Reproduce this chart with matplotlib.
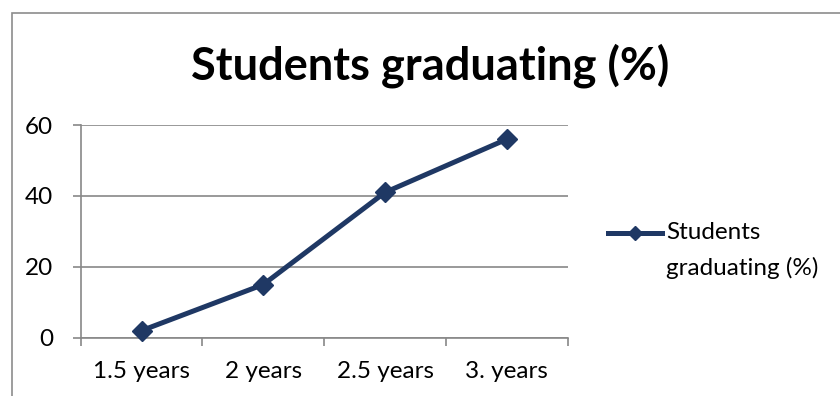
import matplotlib
matplotlib.use("Agg")
import matplotlib.pyplot as plt
import numpy as np
from matplotlib.lines import Line2D
from matplotlib.patches import Rectangle

categories = ["1.5 years", "2 years", "2.5 years", "3. years"]
graduating = [2, 15, 41, 56]
y_ticks = [0, 20, 40, 60]
series_name = "Students graduating (%)"

W, H = 840, 396
DPI = 100
LINE_COLOR = "#1F3864"
AXIS_GRAY = "#888888"
LABEL_SIZE = 17.5

plt.rcParams["font.family"] = ["Lato", "DejaVu Sans"]

fig = plt.figure(figsize=(W / DPI, H / DPI), dpi=DPI)
fig.patch.set_facecolor("white")

# chart frame (runs off the right and bottom edges)
fig.add_artist(Rectangle((12 / W, -0.2), 1.2, (H - 13) / H + 0.2,
                         transform=fig.transFigure, fill=False,
                         edgecolor="#8c8c8c", linewidth=1.2))

# plot area in pixel terms
left, right, top, bottom = 80.7, 567.7, 125.0, 337.7
ax = fig.add_axes([left / W, (H - bottom) / H, (right - left) / W, (bottom - top) / H])

x = np.arange(len(categories)) + 0.5
ax.plot(x, graduating, color=LINE_COLOR, linewidth=3.6, marker="D",
        markersize=10, markerfacecolor=LINE_COLOR, markeredgecolor=LINE_COLOR,
        solid_joinstyle="round", zorder=3, clip_on=False)

ax.set_xlim(0, len(categories))
ax.set_ylim(0, 60)
ax.set_yticks(y_ticks)
ax.set_yticklabels([str(v) for v in y_ticks])
ax.set_xticks(np.arange(len(categories) + 1))
ax.set_xticklabels([""] * (len(categories) + 1))
ax.set_xticks(x, minor=True)
ax.set_xticklabels(categories, minor=True)

ax.grid(axis="y", color=AXIS_GRAY, linewidth=1.2, zorder=0)
ax.set_axisbelow(True)
for side in ("top", "right"):
    ax.spines[side].set_visible(False)
for side in ("left", "bottom"):
    ax.spines[side].set_color(AXIS_GRAY)
    ax.spines[side].set_linewidth(1.2)

ax.tick_params(axis="y", which="major", length=6, width=1.2, color=AXIS_GRAY,
               labelsize=LABEL_SIZE, pad=14, labelcolor="black")
ax.tick_params(axis="x", which="major", length=6, width=1.2, color=AXIS_GRAY)
ax.tick_params(axis="x", which="minor", length=0, labelsize=LABEL_SIZE, pad=17,
               labelcolor="black")

fig.text(430 / W, 1 - 66 / H, series_name, ha="center", va="center",
         fontsize=32.5, fontweight="bold", color="black")

# legend
ly = 1 - 233 / H
fig.add_artist(Line2D([608 / W, 662 / W], [ly, ly], transform=fig.transFigure,
                      color=LINE_COLOR, linewidth=3.6))
fig.add_artist(Line2D([635 / W], [ly], transform=fig.transFigure,
                      color=LINE_COLOR, marker="D", markersize=7, linestyle="none"))
words = series_name.split(" ", 1)
fig.text(666 / W, ly, words[0], ha="left", va="center", fontsize=LABEL_SIZE)
fig.text(666 / W, 1 - 268 / H, words[1], ha="left", va="center", fontsize=LABEL_SIZE)

fig.savefig("out.png", dpi=DPI, facecolor="white")
